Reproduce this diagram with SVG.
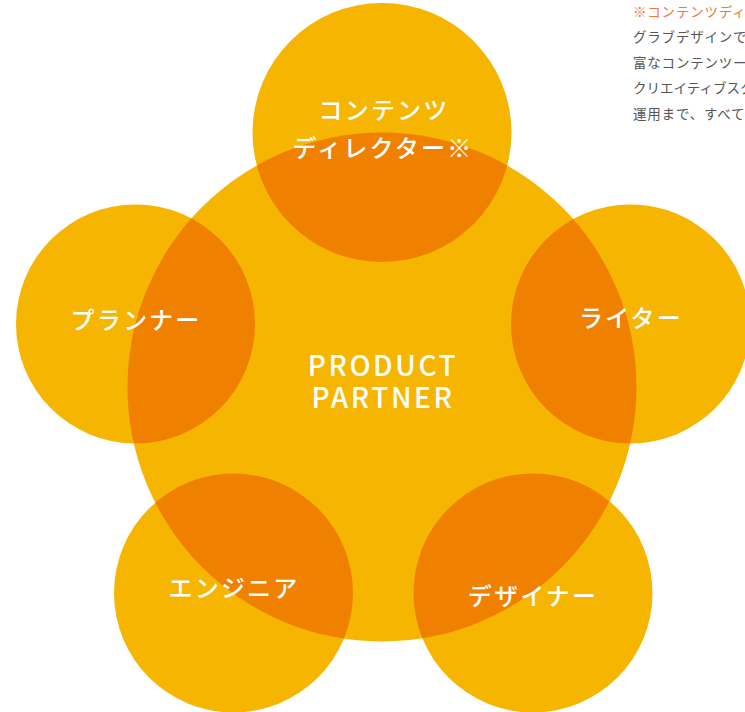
<svg xmlns="http://www.w3.org/2000/svg" width="745" height="712" viewBox="0 0 745 712">
<style>
.c{fill:#F6B500}
.o{fill:#F08100}
.lbl{font-family:"Noto Sans CJK JP","Noto Sans",sans-serif;font-size:24px;font-weight:500;fill:#fff;text-anchor:middle;letter-spacing:2.2px}
.pp{font-family:"Noto Sans CJK JP","Noto Sans",sans-serif;font-size:28px;font-weight:500;fill:#fff;text-anchor:middle;letter-spacing:2.6px}
.note{font-family:"Noto Sans CJK JP","Noto Sans",sans-serif;font-size:13.5px;fill:#555;letter-spacing:0.8px}
</style>
<defs>
<clipPath id="kTop"><circle cx="382" cy="132.5" r="129.5"/></clipPath>
<clipPath id="kLeft"><circle cx="135.5" cy="324" r="119.5"/></clipPath>
<clipPath id="kRight"><circle cx="630.5" cy="324" r="119.5"/></clipPath>
<clipPath id="kBL"><circle cx="233.5" cy="593" r="119.5"/></clipPath>
<clipPath id="kBR"><circle cx="533" cy="593" r="119.5"/></clipPath>
</defs>
<rect width="745" height="712" fill="#fff"/>
<g id="note">
<text class="note" x="633" y="17" style="fill:#F07838">※コンテンツディ</text>
<text class="note" x="633" y="42">グラブデザインで</text>
<text class="note" x="633" y="68">富なコンテンツー</text>
<text class="note" x="633" y="93" style="letter-spacing:0">クリエイティブスタ</text>
<text class="note" x="633" y="119">運用まで、すべて</text>
</g>
<g id="center">
<circle class="c" cx="382" cy="387" r="254.5"/>
</g>
<g id="top">
<circle class="c" cx="382" cy="132.5" r="129.5"/>
<circle class="o" cx="382" cy="387" r="254.5" clip-path="url(#kTop)"/>
<text class="lbl" x="384" y="119">コンテンツ</text>
<text class="lbl" x="383" y="157">ディレクター※</text>
</g>
<g id="planner">
<circle class="c" cx="135.5" cy="324" r="119.5"/>
<circle class="o" cx="382" cy="387" r="254.5" clip-path="url(#kLeft)"/>
<text class="lbl" x="136" y="329">プランナー</text>
</g>
<g id="writer">
<circle class="c" cx="630.5" cy="324" r="119.5"/>
<circle class="o" cx="382" cy="387" r="254.5" clip-path="url(#kRight)"/>
<text class="lbl" x="631" y="327">ライター</text>
</g>
<g id="engineer">
<circle class="c" cx="233.5" cy="593" r="119.5"/>
<circle class="o" cx="382" cy="387" r="254.5" clip-path="url(#kBL)"/>
<text class="lbl" x="234" y="597">エンジニア</text>
</g>
<g id="designer">
<circle class="c" cx="533" cy="593" r="119.5"/>
<circle class="o" cx="382" cy="387" r="254.5" clip-path="url(#kBR)"/>
<text class="lbl" x="533" y="605">デザイナー</text>
</g>
<g id="product-partner">
<text class="pp" x="383" y="376">PRODUCT</text>
<text class="pp" x="383" y="408">PARTNER</text>
</g>
<g id="connectors"/>
</svg>
